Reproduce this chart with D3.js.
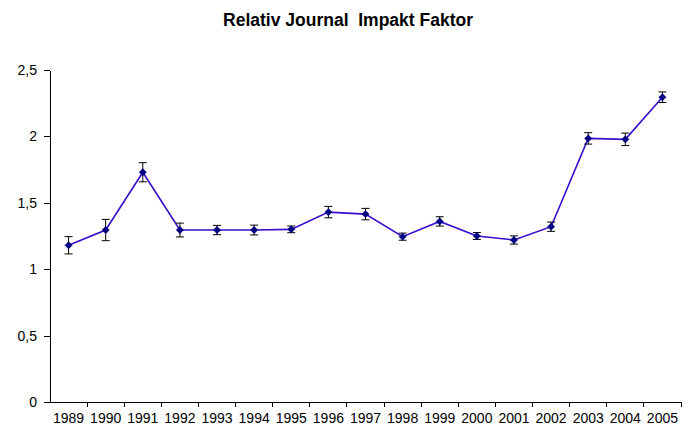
<!DOCTYPE html>
<html>
<head>
<meta charset="utf-8">
<script src="https://cdn.jsdelivr.net/npm/d3@7"></script>
<style>
  body { margin: 0; background: #fff; }
  svg text { font-family: "Liberation Sans", Arial, sans-serif; fill: #000; }
  .axis path, .axis line { stroke: #000; shape-rendering: crispEdges; }
</style>
</head>
<body>
<div id="chart-area"></div>
<script>
// Chart data
var years = ["1989", "1990", "1991", "1992", "1993", "1994", "1995", "1996", "1997",
             "1998", "1999", "2000", "2001", "2002", "2003", "2004", "2005"];
var impact = [1.18, 1.295, 1.73, 1.295, 1.295, 1.295, 1.30, 1.43, 1.415,
              1.245, 1.36, 1.25, 1.22, 1.32, 1.985, 1.978, 2.295];
var errors = [0.065, 0.08, 0.072, 0.052, 0.035, 0.037, 0.025, 0.043, 0.043,
              0.027, 0.035, 0.026, 0.031, 0.035, 0.043, 0.047, 0.04];
var yTicks = [0, 0.5, 1, 1.5, 2, 2.5];
var title = "Relativ Journal  Impakt Faktor";

var width = 689,
    height = 430;

var data = years.map(function(y, i) {
    return { year: y, value: impact[i], err: errors[i] };
});

var svg = d3.select("#chart-area").append("svg")
    .attr("width", width)
    .attr("height", height);

// scales
var x = d3.scaleBand()
    .domain(years)
    .range([50, 681])
    .padding(0);

var y = d3.scaleLinear()
    .domain([0, 2.5])
    .range([402, 70]);

// title
svg.append("text")
    .attr("x", 348)
    .attr("y", 26)
    .attr("text-anchor", "middle")
    .style("font-size", "17.5px")
    .style("font-weight", "bold")
    .style("white-space", "pre")
    .text(title);

// y axis
var yAxis = d3.axisLeft(y)
    .tickValues(yTicks)
    .tickSize(6)
    .tickSizeOuter(0)
    .tickPadding(7)
    .tickFormat(function(d) { return String(d).replace(".", ","); });

svg.append("g")
    .attr("class", "axis yAxis")
    .attr("transform", "translate(50,0)")
    .call(yAxis)
    .selectAll("text")
    .style("font-size", "14px");

// x axis (labels centred in bands, ticks between categories)
var xAxis = d3.axisBottom(x)
    .tickSize(0)
    .tickSizeOuter(0)
    .tickPadding(11);

var gx = svg.append("g")
    .attr("class", "axis xAxis")
    .attr("transform", "translate(0,402)")
    .call(xAxis);

gx.selectAll("text").style("font-size", "14px");

gx.selectAll(".between")
    .data(years.slice(1).concat(["end"]))
    .enter()
    .append("line")
    .attr("class", "between")
    .attr("x1", function(d) { return d === "end" ? x.range()[1] : x(d); })
    .attr("x2", function(d) { return d === "end" ? x.range()[1] : x(d); })
    .attr("y1", 0)
    .attr("y2", 5);

var cx = function(d) { return x(d.year) + x.bandwidth() / 2; };

// line
var line = d3.line()
    .x(cx)
    .y(function(d) { return y(d.value); });

svg.append("path")
    .datum(data)
    .attr("d", line)
    .attr("fill", "none")
    .attr("stroke", "#3a0ccc")
    .attr("stroke-width", 1.6);

// error bars
var bars = svg.selectAll(".err")
    .data(data)
    .enter()
    .append("g")
    .attr("class", "err")
    .attr("stroke", "#000")
    .attr("stroke-width", 1);

bars.append("line")
    .attr("x1", cx).attr("x2", cx)
    .attr("y1", function(d) { return y(d.value + d.err); })
    .attr("y2", function(d) { return y(d.value - d.err); });

bars.append("line")
    .attr("x1", function(d) { return cx(d) - 4; })
    .attr("x2", function(d) { return cx(d) + 4; })
    .attr("y1", function(d) { return y(d.value + d.err); })
    .attr("y2", function(d) { return y(d.value + d.err); });

bars.append("line")
    .attr("x1", function(d) { return cx(d) - 4; })
    .attr("x2", function(d) { return cx(d) + 4; })
    .attr("y1", function(d) { return y(d.value - d.err); })
    .attr("y2", function(d) { return y(d.value - d.err); });

// diamond markers
svg.selectAll(".marker")
    .data(data)
    .enter()
    .append("path")
    .attr("class", "marker")
    .attr("d", d3.symbol().type(d3.symbolDiamond2).size(34))
    .attr("transform", function(d) {
        return "translate(" + cx(d) + "," + y(d.value) + ")";
    })
    .attr("fill", "#000080")
    .attr("stroke", "#000080")
    .attr("stroke-width", 0.5);
</script>
</body>
</html>
